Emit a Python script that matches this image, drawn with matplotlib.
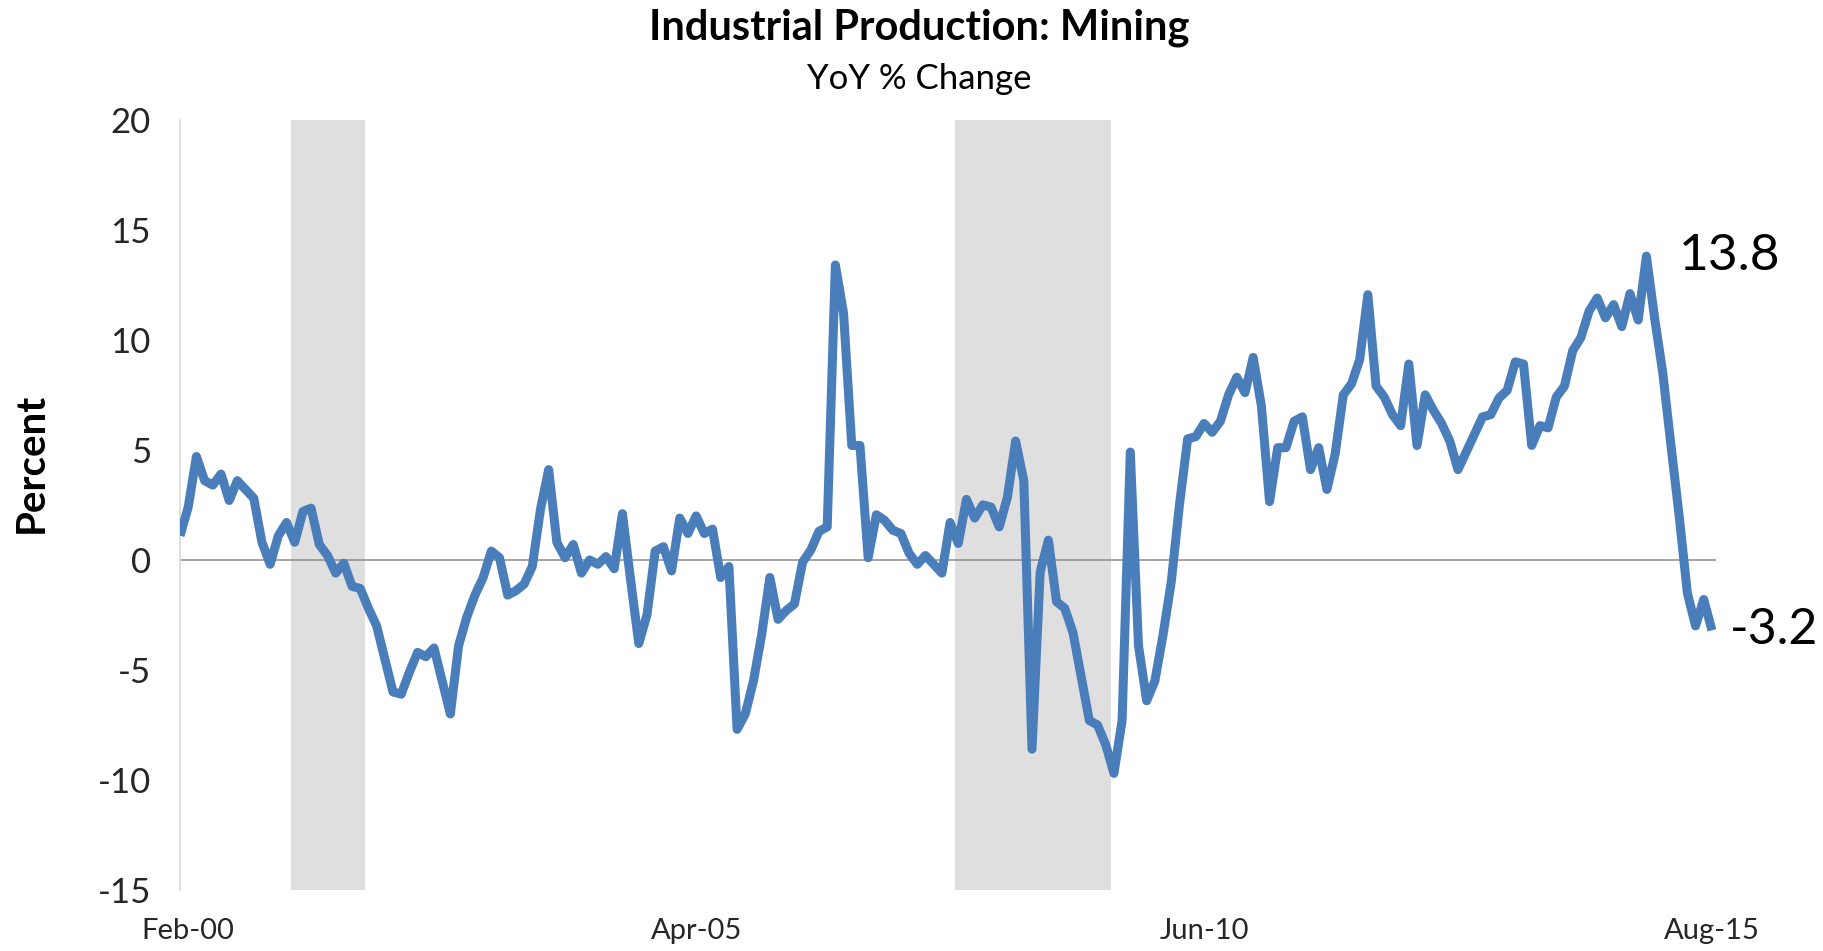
#!/usr/bin/env python3
"""Industrial Production: Mining, YoY % change, with recession shading."""

import matplotlib

matplotlib.use("Agg")
import matplotlib.pyplot as plt
import numpy as np

# monthly YoY % change, Jan-00 .. Aug-15
START_LABEL = "Jan-00"
MINING_YOY = [
    1.1, 2.4, 4.7, 3.6, 3.4, 3.9, 2.7, 3.6, 3.2, 2.8, 0.8, -0.2,
    1.1, 1.7, 0.8, 2.2, 2.35, 0.7, 0.2, -0.6, -0.15, -1.2, -1.3, -2.2,
    -3.0, -4.5, -6.0, -6.1, -5.1, -4.2, -4.4, -4.0, -5.5, -7.0, -3.9, -2.6,
    -1.6, -0.8, 0.4, 0.1, -1.6, -1.4, -1.1, -0.3, 2.3, 4.1, 0.8, 0.1,
    0.7, -0.6, 0.0, -0.2, 0.15, -0.4, 2.1, -0.9, -3.8, -2.5, 0.4, 0.6,
    -0.5, 1.9, 1.2, 2.0, 1.2, 1.4, -0.8, -0.3, -7.7, -7.0, -5.5, -3.4,
    -0.8, -2.7, -2.3, -2.0, -0.1, 0.45, 1.3, 1.5, 13.4, 11.2, 5.2, 5.2,
    0.1, 2.05, 1.8, 1.35, 1.2, 0.3, -0.2, 0.2, -0.2, -0.6, 1.7, 0.75,
    2.75, 1.9, 2.5, 2.4, 1.5, 2.85, 5.4, 3.6, -8.6, -0.55, 0.9, -1.9,
    -2.2, -3.3, -5.3, -7.3, -7.5, -8.4, -9.7, -7.3, 4.9, -3.9, -6.4, -5.5,
    -3.4, -1.0, 2.5, 5.5, 5.6, 6.2, 5.8, 6.3, 7.5, 8.3, 7.6, 9.2,
    7.0, 2.65, 5.1, 5.1, 6.3, 6.5, 4.1, 5.1, 3.2, 4.8, 7.5, 8.0,
    9.1, 12.05, 7.9, 7.4, 6.6, 6.1, 8.9, 5.2, 7.5, 6.8, 6.2, 5.4,
    4.1, 4.9, 5.7, 6.5, 6.6, 7.35, 7.7, 9.0, 8.9, 5.2, 6.1, 6.0,
    7.4, 7.9, 9.5, 10.1, 11.3, 11.9, 11.0, 11.6, 10.6, 12.1, 10.9, 13.8,
    11.0, 8.5, 5.2, 2.0, -1.5, -3.0, -1.8, -3.2,
]

# recessions as (first month, last month), month index from Jan-00
RECESSIONS = [(14, 22), (95, 113)]

TICK_MONTHS = [1, 63, 125, 187]
TICK_LABELS = ["Feb-00", "Apr-05", "Jun-10", "Aug-15"]
Y_TICKS = [-15, -10, -5, 0, 5, 10, 15, 20]

LINE_COLOR = "#4A7EBB"
SHADE_COLOR = "#DFDFDF"
FONT = ["Lato", "DejaVu Sans"]


def main() -> None:
    plt.rcParams["font.family"] = FONT
    plt.rcParams["axes.unicode_minus"] = False

    values = np.array(MINING_YOY)
    months = np.arange(len(values))

    fig = plt.figure(figsize=(18.24, 9.51), dpi=100)
    ax = fig.add_axes([0.0987, 0.0641, 0.8421, 0.8100])

    for first, last in RECESSIONS:
        ax.axvspan(first - 0.4, last + 0.6, color=SHADE_COLOR, lw=0, zorder=0)

    ax.axhline(0, color="#8C8C8C", lw=1.1, zorder=1)
    ax.plot(months, values, color=LINE_COLOR, lw=6.5, solid_joinstyle="round",
            solid_capstyle="butt", zorder=3)

    ax.set_xlim(0, len(values) - 0.5)
    ax.set_ylim(-15, 20)
    ax.set_yticks(Y_TICKS)
    ax.set_yticklabels([str(t) for t in Y_TICKS])
    ax.set_xticks(TICK_MONTHS)
    ax.set_xticklabels(TICK_LABELS)
    ax.tick_params(axis="y", length=0, pad=21, labelsize=25, labelcolor="#262626")
    ax.tick_params(axis="x", length=0, pad=20, labelsize=21, labelcolor="#262626")

    for side in ("top", "right", "bottom"):
        ax.spines[side].set_visible(False)
    ax.spines["left"].set_color("#D9D9D9")
    ax.spines["left"].set_linewidth(1.2)

    last = values[-1]
    peak = values.max()
    ax.text(183, peak, f"{peak:.1f}", fontsize=37, va="center", ha="left", clip_on=False)
    ax.text(189.2, last, f"{last:.1f}", fontsize=36, va="center", ha="left", clip_on=False)

    fig.text(0.504, 0.971, "Industrial Production: Mining", fontsize=30,
             fontweight="bold", ha="center", va="center")
    fig.text(0.504, 0.917, "YoY % Change", fontsize=25, ha="center", va="center")
    fig.text(0.017, 0.513, "Percent", fontsize=29, fontweight="bold", rotation=90,
             ha="center", va="center")

    fig.savefig("out.png", dpi=100)
    plt.close(fig)


if __name__ == "__main__":
    main()
